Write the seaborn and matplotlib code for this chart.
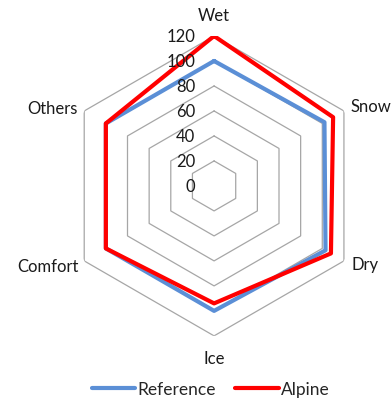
import numpy as np
import pandas as pd
import seaborn as sns
import matplotlib.pyplot as plt

categories = ["Wet", "Snow", "Dry", "Ice", "Comfort", "Others"]
reference = [100, 102, 103, 100, 100, 100]
alpine = [120, 110, 108, 94, 100, 100]
series_names = ["Reference", "Alpine"]
radial_ticks = [0, 20, 40, 60, 80, 100, 120]

sns.set_theme(style="white")
plt.rcParams["font.family"] = ["Lato", "DejaVu Sans"]

n = len(categories)
angles = np.linspace(0, 2 * np.pi, n, endpoint=False)
closed_angles = np.append(angles, 2 * np.pi)

rows = []
for name, vals in zip(series_names, [reference, alpine]):
    for a, v in zip(closed_angles, vals + vals[:1]):
        rows.append({"theta": a, "value": v, "series": name})
df = pd.DataFrame(rows)

fig = plt.figure(figsize=(3.91, 4.02), dpi=100)
ax = fig.add_axes([0.164, 0.162, 0.767, 0.746], projection="polar")
ax.set_theta_offset(np.pi / 2)
ax.set_theta_direction(-1)

# hexagonal grid
for r in radial_ticks[1:]:
    ax.plot(closed_angles, [r] * (n + 1), color="#a6a6a6", lw=0.9, zorder=1)

sns.lineplot(data=df, x="theta", y="value", hue="series", sort=False,
             palette={"Reference": "#5b8fd6", "Alpine": "#ff0000"},
             linewidth=3.0, ax=ax, legend=False, zorder=3)

ax.set_ylim(0, 120)
ax.grid(False)
ax.spines["polar"].set_visible(False)
ax.set_xticks([])
ax.set_yticks([])
ax.set_xlabel("")
ax.set_ylabel("")

# radial labels
for r in radial_ticks:
    ax.annotate(str(r), xy=(0, r), xytext=(-19, 0), textcoords="offset pixels",
                ha="right", va="center", fontsize=12, color="#1a1a1a")

# category labels
offsets = [(0, 21, "center"), (7, 5, "left"), (8, -3, "left"),
           (0, -22, "center"), (-6, -5, "right"), (-7, 3, "right")]
for a, lab, (dx, dy, ha) in zip(angles, categories, offsets):
    ax.annotate(lab, xy=(a, 120), xytext=(dx, dy), textcoords="offset pixels",
                ha=ha, va="center", fontsize=12, color="#1a1a1a",
                annotation_clip=False)

handles = [plt.Line2D([], [], color="#5b8fd6", lw=3.0),
           plt.Line2D([], [], color="#ff0000", lw=3.0)]
fig.legend(handles, series_names, loc="center", ncol=2, frameon=False,
           bbox_to_anchor=(211 / 391, 1 - 390 / 402), fontsize=12.5,
           handlelength=2.5, handletextpad=0.15, columnspacing=1.1)

fig.savefig("out.png", dpi=100)
plt.close(fig)
